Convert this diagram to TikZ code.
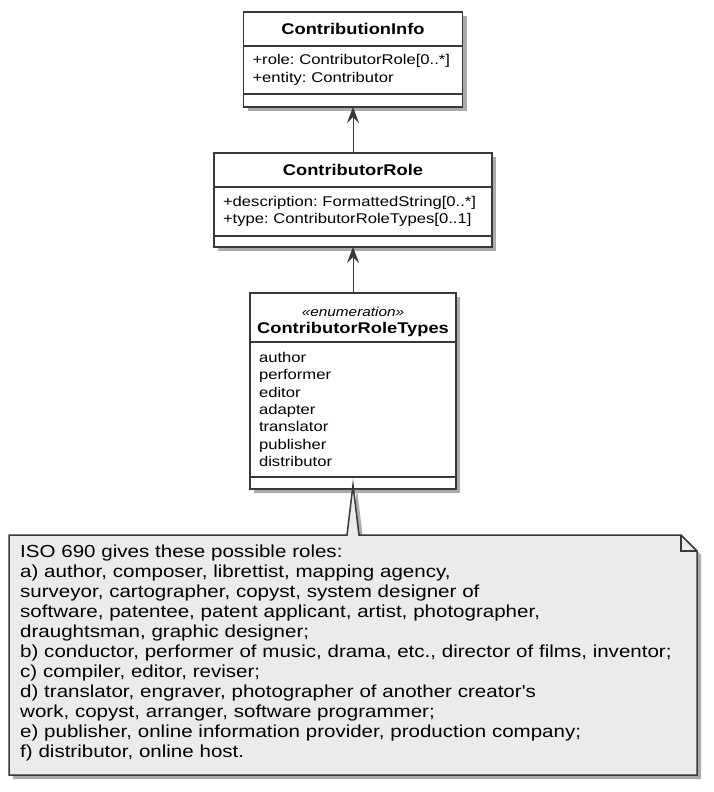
\documentclass[tikz,border=0pt]{standalone}
\usepackage{fontspec}
\setmainfont{Liberation Sans}[FakeStretch = 1.18, Ligatures = TeXOff]
\usetikzlibrary{positioning, arrows.meta, shadows}
\definecolor{umlline}{HTML}{383838}
\definecolor{notefill}{HTML}{EBEBEB}
\definecolor{shadowgray}{HTML}{ABABAB}
\frenchspacing
\begin{document}
\begin{tikzpicture}[x = 1pt, y = -1pt,
        umlshadow/.style = {drop shadow = {shadow xshift = 4pt, shadow yshift = -4pt, fill = shadowgray, opacity = 1}},
        box/.style = {draw = umlline, line width = 1.5pt, fill = white, outer sep = 0pt, inner sep = 0pt, umlshadow},
        classname/.style = {box, align = center, font = \fontsize{15.5}{17}\selectfont\bfseries},
        members/.style = {box, align = left, inner xsep = 9pt, font = \fontsize{14.1}{17.3}\selectfont\frenchspacing},
        assoc/.style = {draw = umlline, line width = 1pt, -{Stealth[length = 16pt, width = 12pt, inset = 6pt]}},
        notebox/.style = {draw = umlline, line width = 1.5pt, fill = notefill, umlshadow},
        notetext/.style = {align = left, inner sep = 0pt, text width = 670pt, font = \fontsize{17.4}{20}\selectfont\frenchspacing}]
        \useasboundingbox (0, 0) rectangle (714, 792);
        \node [classname, minimum width = 219pt, minimum height = 34pt] (infoname) at (353, 29) {ContributionInfo};
        \node [members, text width = 201pt, minimum height = 48pt, below = 0pt of infoname] (infoattrs) {+role: ContributorRole[0..*]\\+entity: Contributor};
        \node [box, minimum width = 219pt, minimum height = 13pt, below = 0pt of infoattrs] (infoempty) {};
        \node [classname, minimum width = 278pt, minimum height = 34pt] (rolename) at (353, 170) {ContributorRole};
        \node [members, text width = 260pt, minimum height = 49pt, below = 0pt of rolename] (roleattrs) {+description: FormattedString[0..*]\\+type: ContributorRoleTypes[0..1]};
        \node [box, minimum width = 278pt, minimum height = 11pt, below = 0pt of roleattrs] (roleempty) {};
        \node [classname, minimum width = 206pt, minimum height = 49pt, text height = 36pt] (typesname) at (353, 317.5) {{\fontsize{13}{17}\selectfont\mdseries\itshape «enumeration»}\\ContributorRoleTypes};
        \node [members, text width = 188pt, minimum height = 135pt, below = 0pt of typesname] (typesvalues) {author\\performer\\editor\\adapter\\translator\\publisher\\distributor};
        \node [box, minimum width = 206pt, minimum height = 12pt, below = 0pt of typesvalues] (typesempty) {};
        \draw [assoc] (rolename.north) -- (infoempty.south);
        \draw [assoc] (typesname.north) -- (roleempty.south);
        \coordinate (notetip) at ([yshift = 4pt]typesempty.south);
        \coordinate (notetl) at (9, 535);
        \coordinate (notebr) at (697, 775);
        \draw [notebox] (notetl) -- (347, 535) -- (notetip) -- (359, 535) -- (681, 535) -- (697, 551) -- (notebr) -- (notetl |- notebr) -- cycle;
        \draw [umlline, line width = 1.5pt] (681, 535) -- (681, 551) -- (697, 551);
        \node [notetext, anchor = north west] (note) at (20, 545) {ISO 690 gives these possible roles:\\a) author, composer, librettist, mapping agency,\\surveyor, cartographer, copyst, system designer of\\software, patentee, patent applicant, artist, photographer,\\draughtsman, graphic designer;\\b) conductor, performer of music, drama, etc., director of films, inventor;\\c) compiler, editor, reviser;\\d) translator, engraver, photographer of another creator's\\work, copyst, arranger, software programmer;\\e) publisher, online information provider, production company;\\f) distributor, online host.};
    \end{tikzpicture}
\end{document}
